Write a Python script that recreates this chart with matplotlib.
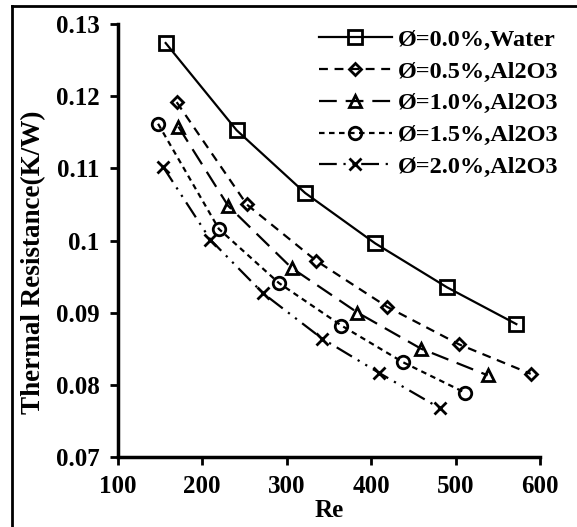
import matplotlib.pyplot as plt
from matplotlib.lines import Line2D

plt.rcParams['font.family'] = 'Liberation Serif'
plt.rcParams['font.weight'] = 'bold'

labels = ['Ø=0.0%,Water', 'Ø=0.5%,Al2O3', 'Ø=1.0%,Al2O3',
          'Ø=1.5%,Al2O3', 'Ø=2.0%,Al2O3']

re_water = [157, 241, 322, 405, 490, 572]
rt_water = [0.1274, 0.1153, 0.1066, 0.0996, 0.0935, 0.0884]

re_05 = [170, 253, 335, 419, 504, 589]
rt_05 = [0.1192, 0.1050, 0.0972, 0.0908, 0.0856, 0.0815]

re_10 = [172, 231, 306, 384, 459, 538]
rt_10 = [0.1158, 0.1048, 0.0962, 0.0900, 0.0850, 0.0813]

re_15 = [148, 220, 291, 365, 438, 511]
rt_15 = [0.1162, 0.1016, 0.0941, 0.0882, 0.0831, 0.0789]

re_20 = [154, 210, 272, 342, 410, 482]
rt_20 = [0.1102, 0.1001, 0.0927, 0.0864, 0.0816, 0.0767]

xticks = [100, 200, 300, 400, 500, 600]
yticks = [0.07, 0.08, 0.09, 0.1, 0.11, 0.12, 0.13]
yticklabels = ['0.07', '0.08', '0.09', '0.1', '0.11', '0.12', '0.13']

series = [
    (re_water, rt_water, 's', '-', 9.5),
    (re_05, rt_05, 'D', (0, (4, 3)), 6.5),
    (re_10, rt_10, '^', (0, (8, 4)), 9),
    (re_15, rt_15, 'o', (0, (2.5, 2)), 9),
    (re_20, rt_20, 'x', (0, (8, 3, 1, 3, 1, 3)), 9),
]

fig = plt.figure(figsize=(5.77, 5.27), dpi=100)
ax = fig.add_axes([117.5 / 577, 1 - 456.7 / 527, (540 - 117.5) / 577, (456.7 - 24.3) / 527])

handles = []
for (x, y, m, ls, ms), lab in zip(series, labels):
    ax.plot(x, y, linestyle=ls, color='black', linewidth=1.6, marker=m,
            markersize=ms, markerfacecolor='none', markeredgecolor='black',
            markeredgewidth=2, clip_on=False)
    handles.append(Line2D([], [], linestyle=ls, color='black', linewidth=1.6,
                          marker=m, markersize=ms, markerfacecolor='none',
                          markeredgecolor='black', markeredgewidth=2))

ax.set_xlim(100, 600)
ax.set_ylim(0.07, 0.13)
ax.set_xticks(xticks)
ax.set_yticks(yticks)
ax.set_yticklabels(yticklabels)
ax.tick_params(labelsize=18, width=2, length=6, direction='out', pad=7)
ax.spines['top'].set_visible(False)
ax.spines['right'].set_visible(False)
ax.spines['left'].set_linewidth(2.5)
ax.spines['bottom'].set_linewidth(2.5)

ax.set_xlabel('Re', fontsize=18, fontweight='bold', labelpad=1)
ax.set_ylabel('Thermal Resistance(K/W)', fontsize=19.5, fontweight='bold')
ax.yaxis.set_label_coords(-0.168, 0.45)

ax.legend(handles, labels, loc='upper right', bbox_to_anchor=(1.095, 1.04),
          frameon=False, handlelength=3.0, handletextpad=0.25,
          labelspacing=0.4, prop={'weight': 'bold', 'size': 17.5})

fig.add_artist(Line2D([12 / 577, 12 / 577], [0, 1 - 6 / 527], color='black', linewidth=2))
fig.add_artist(Line2D([12 / 577, 1], [1 - 6 / 527, 1 - 6 / 527], color='black', linewidth=2))

fig.savefig('out.png', dpi=100)
